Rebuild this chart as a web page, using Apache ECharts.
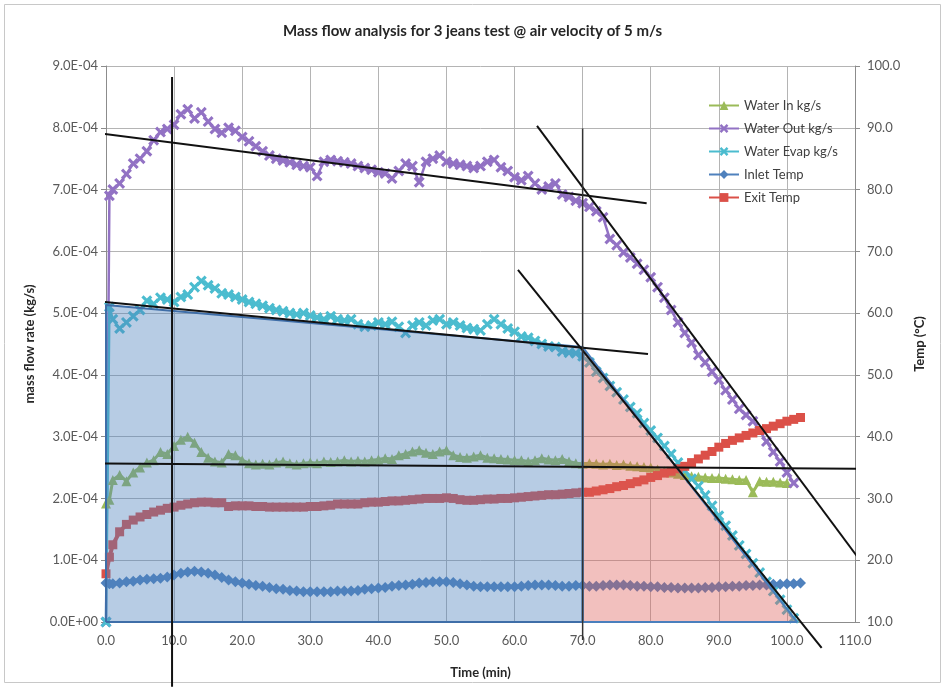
<!DOCTYPE html>
<html>
<head>
<meta charset="utf-8">
<script src="https://cdn.jsdelivr.net/npm/echarts@6/dist/echarts.min.js"></script>
<style>
  html, body { margin: 0; padding: 0; background: #fff; }
  #chart { width: 945px; height: 687px; }
</style>
</head>
<body>
<div id="chart"></div>
<script>
// time (min); first two samples bracket the start-up jump
const timeMin = [0, 0.5];
for (let t = 1; t <= 102; t++) timeMin.push(t);

// mass flow, in units of 1E-04 kg/s
const waterIn = [
  1.92, 1.98,
  2.3, 2.38, 2.28, 2.42, 2.5, 2.58, 2.62, 2.75, 2.72, 2.85,
  2.95, 3.0, 2.9, 2.75, 2.66, 2.6, 2.58, 2.72, 2.7, 2.62,
  2.57, 2.55, 2.56, 2.55, 2.58, 2.6, 2.57, 2.55, 2.57, 2.58,
  2.57, 2.6, 2.59, 2.6, 2.62, 2.6, 2.61, 2.6, 2.62, 2.63,
  2.65, 2.64, 2.7, 2.72, 2.76, 2.78, 2.74, 2.72, 2.76, 2.78,
  2.7, 2.67, 2.66, 2.68, 2.7, 2.66, 2.65, 2.64, 2.63, 2.62,
  2.62, 2.6, 2.62, 2.65, 2.63, 2.62, 2.64, 2.6, 2.57, 2.56,
  2.57, 2.56, 2.55, 2.56, 2.54, 2.55, 2.53, 2.52, 2.51, 2.5,
  2.47, 2.44, 2.42, 2.4, 2.38, 2.36, 2.35, 2.34, 2.33, 2.33,
  2.32, 2.31, 2.3, 2.3, 2.1, 2.28, 2.27, 2.27, 2.26, 2.25,
  null, null
];
const waterOut = [
  0, 6.9,
  7.0, 7.1, 7.25, 7.42, 7.5, 7.62, 7.8, 7.93, 7.98, 8.05,
  8.22, 8.3, 8.15, 8.25, 8.1, 7.98, 7.92, 8.0, 7.95, 7.85,
  7.78, 7.7, 7.62, 7.55, 7.5, 7.47, 7.44, 7.4, 7.38, 7.36,
  7.22, 7.45, 7.48, 7.46, 7.44, 7.42, 7.38, 7.35, 7.32, 7.28,
  7.26, 7.18, 7.3, 7.42, 7.38, 7.12, 7.45, 7.5, 7.55, 7.45,
  7.42, 7.4, 7.38, 7.35, 7.38, 7.45, 7.48, 7.36, 7.3, 7.2,
  7.15, 7.22, 7.1, 7.0, 7.05, 7.1, 6.92, 6.88, 6.82, 6.78,
  6.72, 6.65, 6.55, 6.2, 6.1, 5.98, 5.9, 5.8, 5.7, 5.58,
  5.42, 5.25, 5.05, 4.85, 4.68, 4.52, 4.32, 4.2, 4.05, 3.92,
  3.75, 3.6, 3.45, 3.35, 3.25, 3.1, 2.92, 2.75, 2.6, 2.42,
  2.25, null
];
const waterEvap = [
  0, 5.1,
  4.9, 4.75, 4.85, 4.95, 5.05, 5.2, 5.15, 5.25, 5.22, 5.18,
  5.26, 5.3, 5.42, 5.52, 5.45, 5.4, 5.32, 5.3, 5.26, 5.22,
  5.18, 5.15, 5.12, 5.08, 5.05, 5.03, 5.0, 4.98, 5.0, 4.96,
  4.93, 4.9, 4.95, 4.9, 4.88, 4.9, 4.82, 4.78, 4.8, 4.85,
  4.82, 4.86, 4.78, 4.68, 4.8, 4.85, 4.8, 4.88, 4.9, 4.82,
  4.85, 4.8, 4.76, 4.74, 4.72, 4.82, 4.9, 4.82, 4.75, 4.7,
  4.62, 4.6, 4.55, 4.5, 4.46, 4.45, 4.38, 4.36, 4.35, 4.3,
  4.2, 4.05, 3.95, 3.82, 3.72, 3.6, 3.48, 3.38, 3.22, 3.1,
  2.98, 2.85, 2.72, 2.58, 2.45, 2.32, 2.2, 2.05, 1.88, 1.72,
  1.56, 1.4, 1.24, 1.1, 0.95, 0.8, 0.65, 0.5, 0.36, 0.2,
  0.06, null
];

// temperatures (°C), right axis
const inletTemp = [
  16.3, 16.2,
  16.2, 16.3, 16.5, 16.6, 16.8, 16.9, 17.0, 17.1, 17.3, 17.6,
  17.9, 18.1, 18.2, 18.1, 17.9, 17.6, 17.2, 16.8, 16.5, 16.3,
  16.1, 15.9, 15.8, 15.6, 15.4, 15.3, 15.1, 15.0, 14.9, 14.9,
  14.9, 14.9, 14.9, 15.0, 15.0, 15.0, 15.1, 15.3, 15.4, 15.5,
  15.6, 15.8, 15.9, 16.0, 16.1, 16.3, 16.4, 16.5, 16.5, 16.5,
  16.4, 16.2, 16.0, 15.8, 15.7, 15.7, 15.7, 15.7, 15.7, 15.7,
  15.8, 15.9, 16.0, 16.0, 16.0, 15.9, 15.8, 15.8, 15.9, 15.9,
  15.8, 15.8, 15.9, 16.0, 16.0, 16.0, 15.9, 15.8, 15.8, 15.7,
  15.7, 15.6, 15.6, 15.5, 15.5, 15.5, 15.5, 15.6, 15.6, 15.7,
  15.7, 15.8, 15.8, 15.9, 15.9, 16.0, 16.0, 16.1, 16.1, 16.2,
  16.2, 16.3
];
const exitTemp = [
  17.8, 20.5,
  22.5, 24.6, 25.8, 26.5, 27.0, 27.4, 27.8, 28.1, 28.4, 28.6,
  28.9, 29.1, 29.3, 29.4, 29.4, 29.3, 29.3, 28.7, 28.8, 28.8,
  28.8, 28.7, 28.7, 28.6, 28.6, 28.6, 28.6, 28.6, 28.6, 28.7,
  28.7, 28.8, 28.9, 29.1, 29.1, 29.1, 29.1, 29.3, 29.4, 29.4,
  29.5, 29.6, 29.6, 29.7, 29.8, 29.9, 30.0, 30.0, 30.0, 30.1,
  30.0, 29.8, 29.7, 29.7, 29.8, 29.9, 29.9, 30.0, 30.0, 30.1,
  30.2, 30.3, 30.4, 30.5, 30.6, 30.6, 30.7, 30.8, 30.9, 31.0,
  31.0, 31.2, 31.4, 31.6, 31.9, 32.1, 32.4, 32.7, 33.0, 33.4,
  33.7, 34.1, 34.4, 34.8, 35.2, 35.8, 36.4, 37.0, 37.6, 38.3,
  38.9, 39.4, 39.8, 40.2, 40.6, 41.0, 41.3, 41.7, 42.1, 42.5,
  42.8, 43.1
];

// shaded regions (time, 1E-04 kg/s)
const steadyArea = [[0, 0], [0, 5.13], [70, 4.45], [70, 0], [0, 0]];
const fallingArea = [[70, 0], [70, 4.45], [101.5, 0], [70, 0]];

// hand-drawn trend lines (time, 1E-04 kg/s)
const trendLines = [
  [[-6.5, 7.99], [79.4, 6.78]],
  [[63.3, 8.03], [111.6, 0.87]],
  [[-5, 5.23], [79.6, 4.34]],
  [[60.5, 5.70], [105.1, -0.42]],
  [[-5, 2.57], [110.7, 2.48]],
  [[9.7, 8.82], [9.7, -1.05]]
];
const markerLine70 = [[70, 7.99], [70, -0.29]];

const FONT = 'Lato, "Open Sans", sans-serif';
const zip = arr => timeMin.map((t, i) => [t, arr[i]]);
const crossPath = 'path://M2,0 L5,3 L8,0 L10,2 L7,5 L10,8 L8,10 L5,7 L2,10 L0,8 L3,5 L0,2 Z';

const dataLine = (name, arr, color, symbol, size, width, yAxisIndex) => ({
  name,
  type: 'line',
  yAxisIndex,
  data: zip(arr),
  symbol,
  symbolSize: size,
  showSymbol: true,
  showAllSymbol: true,
  lineStyle: { color, width },
  itemStyle: { color },
  z: 3
});

const chart = echarts.init(document.getElementById('chart'));

const series = [
  dataLine('Water In kg/s', waterIn, '#9bbb59', 'triangle', 10, 3, 0),
  dataLine('Water Out kg/s', waterOut, '#9272c4', crossPath, 11, 2.5, 0),
  dataLine('Water Evap kg/s', waterEvap, '#4bbccf', crossPath, 11, 2.5, 0),
  dataLine('Inlet Temp', inletTemp, '#4f81bd', 'diamond', 11, 4, 1),
  dataLine('Exit Temp', exitTemp, '#db5048', 'rect', 9, 4, 1),
  {
    type: 'line',
    data: steadyArea,
    symbol: 'none',
    silent: true,
    lineStyle: { color: '#3f6ea8', width: 2 },
    areaStyle: { color: 'rgba(79,129,189,0.58)', origin: 0 },
    z: 4
  },
  {
    type: 'line',
    data: fallingArea,
    symbol: 'none',
    silent: true,
    lineStyle: { color: '#4a7fbd', width: 2 },
    areaStyle: { color: 'rgba(222,92,86,0.55)', origin: 0 },
    z: 4
  }
];

trendLines.forEach(pts => {
  series.push({
    type: 'line',
    data: pts,
    symbol: 'none',
    silent: true,
    clip: false,
    lineStyle: { color: '#111', width: 2 },
    z: 6
  });
});
series.push({
  type: 'line',
  data: markerLine70,
  symbol: 'none',
  silent: true,
  clip: false,
  lineStyle: { color: '#333', width: 1.5 },
  z: 6
});

const axisLabel = { color: '#595959', fontSize: 13, fontFamily: FONT };
const nameStyle = { color: '#262626', fontSize: 13, fontWeight: 'bold', fontFamily: FONT };
const gridLine = { show: true, lineStyle: { color: '#b4b4b4', width: 1 } };

chart.setOption({
  animation: false,
  backgroundColor: '#fff',
  title: {
    text: 'Mass flow analysis for 3 jeans test @ air velocity of 5 m/s',
    left: 'center',
    top: 19,
    textStyle: { color: '#262626', fontSize: 15, fontWeight: 'bold', fontFamily: FONT }
  },
  legend: {
    orient: 'vertical',
    left: 703,
    top: 94,
    itemGap: 10,
    itemWidth: 30,
    itemHeight: 11,
    data: ['Water In kg/s', 'Water Out kg/s', 'Water Evap kg/s', 'Inlet Temp', 'Exit Temp'],
    textStyle: { color: '#404040', fontSize: 13, fontFamily: FONT }
  },
  grid: { left: 106, right: 90, top: 66, bottom: 65 },
  xAxis: {
    type: 'value',
    min: 0,
    max: 110,
    interval: 10,
    name: 'Time (min)',
    nameLocation: 'middle',
    nameGap: 44,
    nameTextStyle: nameStyle,
    axisLine: { show: true, onZero: false, lineStyle: { color: '#8c8c8c' } },
    axisTick: { show: false },
    axisLabel: { ...axisLabel, margin: 12, formatter: v => v.toFixed(1) },
    splitLine: gridLine
  },
  yAxis: [
    {
      type: 'value',
      min: 0,
      max: 9,
      interval: 1,
      name: 'mass flow rate (kg/s)',
      nameLocation: 'middle',
      nameGap: 70,
      nameTextStyle: nameStyle,
      axisLine: { show: true, lineStyle: { color: '#8c8c8c' } },
      axisTick: { show: true, length: 5, lineStyle: { color: '#8c8c8c' } },
      axisLabel: { ...axisLabel, margin: 8, formatter: v => v === 0 ? '0.0E+00' : v.toFixed(1) + 'E-04' },
      splitLine: gridLine
    },
    {
      type: 'value',
      min: 10,
      max: 100,
      interval: 10,
      position: 'right',
      name: 'Temp (°C)',
      nameLocation: 'middle',
      nameGap: 58,
      nameTextStyle: nameStyle,
      axisLine: { show: true, lineStyle: { color: '#8c8c8c' } },
      axisTick: { show: true, length: 5, lineStyle: { color: '#8c8c8c' } },
      axisLabel: { ...axisLabel, margin: 12, formatter: v => v.toFixed(1) },
      splitLine: { show: false }
    }
  ],
  graphic: [{
    type: 'rect',
    shape: { x: 4.5, y: 4.5, width: 936, height: 678 },
    style: { fill: 'none', stroke: '#c8c8c8', lineWidth: 1 },
    silent: true
  }],
  series
});
</script>
</body>
</html>
